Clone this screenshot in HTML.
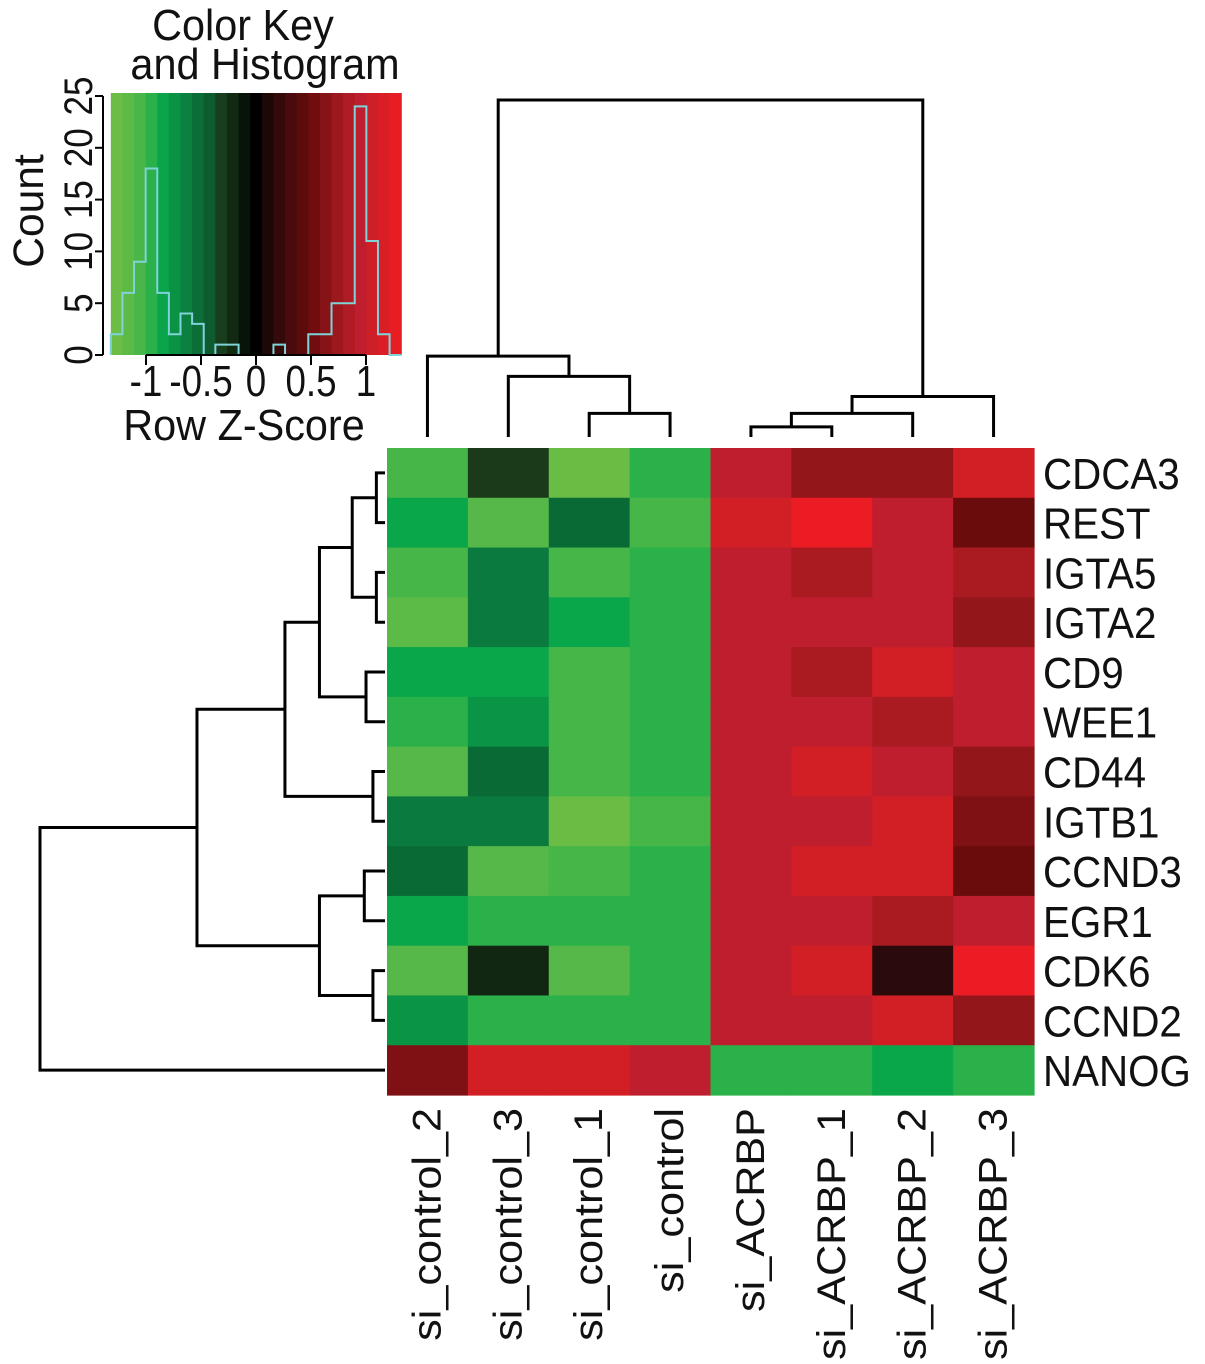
<!DOCTYPE html>
<html><head><meta charset="utf-8"><style>
html,body{margin:0;padding:0;background:#fff;}
svg{display:block;font-family:"Liberation Sans",Arial,sans-serif;}
</style></head><body>
<svg id="c" width="1205" height="1364" viewBox="0 0 1205 1364" xmlns="http://www.w3.org/2000/svg"></svg>
<script>
const genes=["CDCA3","REST","IGTA5","IGTA2","CD9","WEE1","CD44","IGTB1","CCND3","EGR1","CDK6","CCND2","NANOG"];
const samples=["si_control_2","si_control_3","si_control_1","si_control","si_ACRBP","si_ACRBP_1","si_ACRBP_2","si_ACRBP_3"];
const zCDCA3=[-1.05,-0.3,-1.25,-0.95,0.95,0.7,0.7,1.1];
const zREST=[-0.85,-1.1,-0.5,-1.05,1.1,1.3,0.95,0.5];
const zIGTA5=[-1.05,-0.6,-1.05,-0.95,0.95,0.8,0.95,0.8];
const zIGTA2=[-1.15,-0.6,-0.85,-0.95,0.95,0.95,0.95,0.7];
const zCD9=[-0.85,-0.85,-1.05,-0.95,0.95,0.8,1.1,0.95];
const zWEE1=[-0.95,-0.75,-1.05,-0.95,0.95,0.95,0.8,0.95];
const zCD44=[-1.1,-0.5,-1.05,-0.95,0.95,1.1,0.95,0.7];
const zIGTB1=[-0.6,-0.6,-1.25,-1.05,0.95,0.95,1.1,0.6];
const zCCND3=[-0.5,-1.1,-1.05,-0.95,0.95,1.1,1.1,0.5];
const zEGR1=[-0.85,-0.95,-0.95,-0.95,0.95,0.95,0.8,0.95];
const zCDK6=[-1.1,-0.2,-1.1,-0.95,0.95,1.1,0.15,1.3];
const zCCND2=[-0.75,-0.95,-0.95,-0.95,0.95,0.95,1.1,0.7];
const zNANOG=[0.6,1.1,1.1,0.95,-0.95,-0.95,-0.85,-0.95];
const histCounts=[2,6,9,18,6,2,4,3,0,1,1,0,0,0,1,0,0,2,2,5,5,24,11,2,0];
const histStart=-1.32, histBinWidth=0.1056;
const xTicks=[-1,-0.5,0,0.5,1];
const xTickLabels=["-1","-0.5","0","0.5","1"];
const yTicks=[0,5,10,15,20,25];
const colMerges=[[2,3,0.93],[1,8,0.82],[0,9,0.76],[4,5,0.97],[11,6,0.93],[12,7,0.88],[10,13,0.0]];
const rowMerges=[[0,1,0.975],[2,3,0.975],[13,14,0.905],[4,5,0.945],[6,7,0.965],[15,16,0.81],[17,18,0.71],[8,9,0.94],[10,11,0.965],[20,21,0.81],[19,22,0.455],[23,12,0.0]];

const stops=[[-1.32,[114,191,68]],[-1.1,[85,184,72]],[-0.95,[43,177,74]],[-0.85,[10,166,74]],[-0.6,[11,122,62]],[-0.45,[10,98,50]],[-0.3,[26,58,26]],[0,[0,0,0]],[0.15,[42,10,10]],[0.5,[107,12,12]],[0.7,[147,22,27]],[0.8,[169,27,33]],[0.95,[190,30,45]],[1.1,[210,31,38]],[1.32,[237,28,36]]];
function col(v){v=Math.max(-1.32,Math.min(1.32,v));for(let i=0;i<stops.length-1;i++){const a=stops[i],b=stops[i+1];if(v<=b[0]){const t=(v-a[0])/(b[0]-a[0]);const c=a[1].map((x,k)=>Math.round(x+(b[1][k]-x)*t));return `rgb(${c})`;}}return 'rgb(237,28,36)';}
const svg=document.getElementById('c');const NS='http://www.w3.org/2000/svg';
function el(t,a,p){const e=document.createElementNS(NS,t);for(const k in a)e.setAttribute(k,a[k]);(p||svg).appendChild(e);return e;}
const rows=[zCDCA3,zREST,zIGTA5,zIGTA2,zCD9,zWEE1,zCD44,zIGTB1,zCCND3,zEGR1,zCDK6,zCCND2,zNANOG];
const hx0=387,hx1=1034,hy0=448,hy1=1095;
const cw=(hx1-hx0)/samples.length, rh=(hy1-hy0)/genes.length;
const hm=el('g',{});


rows.forEach((r,i)=>r.forEach((v,j)=>{const e=el('rect',{x:hx0+j*cw,y:hy0+i*rh,width:cw+0.6,height:rh+0.6,fill:col(v)},hm);

}));
genes.forEach((g,i)=>{const t=el('text',{x:0,y:0,'font-size':36,fill:'#111',transform:`translate(1043,${hy0+(i+0.5)*rh+16}) scale(1.12,1.22)`});t.textContent=g;

});
samples.forEach((s,j)=>{const cx=hx0+(j+0.5)*cw+13;const t=el('text',{x:0,y:0,'font-size':36,fill:'#111','text-anchor':'end',transform:`translate(${cx},1108) scale(1.1,1.2) rotate(-90)`});t.textContent=s;

});
function dendro(merges,n,leafPos,hPos,vertical,name){const pos=[],hh=[];for(let i=0;i<n;i++){pos.push(leafPos(i));hh.push(1);}
const g=el('g',{stroke:'#000','stroke-width':3,fill:'none'});


merges.forEach(m=>{const a=m[0],b=m[1],h=m[2];const pa=pos[a],pb=pos[b],ha=hPos(hh[a]),hb=hPos(hh[b]),hm2=hPos(h);
let d=vertical?`M${pa},${ha}V${hm2}H${pb}V${hb}`:`M${ha},${pa}H${hm2}V${pb}H${hb}`;el('path',{d},g);pos.push((pa+pb)/2);hh.push(h);});}
dendro(colMerges,8,i=>hx0+(i+0.5)*cw,h=>100+(437-100)*h,true,'column-dendrogram');
dendro(rowMerges,13,i=>hy0+(i+0.5)*rh,h=>40+(385-40)*h,false,'row-dendrogram');
const kx0=111,kx1=401,ky0=93,ky1=355;const kx=v=>256+v*110;const ky=c=>355-c*10.36;
const key=el('g',{});
const ns=25;for(let i=0;i<ns;i++){const v0=-1.32+i*2.64/ns;el('rect',{x:kx(v0),y:ky0,width:2.64/ns*110+0.6,height:ky1-ky0,fill:col(v0+1.32/ns)},key);}
let d=`M${kx(histStart)},${ky(0)}`;histCounts.forEach((c,i)=>{d+=`V${ky(c)}H${kx(histStart+(i+1)*histBinWidth)}`;});d+=`V${ky(0)}`;
const hp=el('path',{d,stroke:'#7fd3d9','stroke-width':2,fill:'none'},key);

el('line',{x1:kx(-1),x2:kx(1),y1:355,y2:355,stroke:'#000','stroke-width':2},key);
xTicks.forEach((v,i)=>{el('line',{x1:kx(v),x2:kx(v),y1:355,y2:365,stroke:'#000','stroke-width':2},key);const t=el('text',{x:0,y:0,'font-size':36,'text-anchor':'middle',fill:'#111',transform:`translate(${kx(v)},396) scale(1.02,1.2)`},key);t.textContent=xTickLabels[i];
});
el('line',{x1:103,x2:103,y1:ky(0),y2:ky(25),stroke:'#000','stroke-width':2},key);
yTicks.forEach(v=>{el('line',{x1:95,x2:103,y1:ky(v),y2:ky(v),stroke:'#000','stroke-width':2},key);const t=el('text',{x:0,y:0,'font-size':35,'text-anchor':'middle',fill:'#111',transform:`translate(92,${ky(v)}) scale(1.15,1.0) rotate(-90)`},key);t.textContent=v;
});
const tt=[["Color Key",243,40],["and Histogram",265,79]];
tt.forEach(a=>{const t=el('text',{x:0,y:0,'font-size':36,'text-anchor':'middle',fill:'#111',transform:`translate(${a[1]},${a[2]}) scale(1.15,1.2)`});t.textContent=a[0];
});
const xt=el('text',{x:0,y:0,'font-size':36,'text-anchor':'middle',fill:'#111',transform:'translate(244,440) scale(1.15,1.22)'});xt.textContent='Row Z-Score';

const yt=el('text',{x:0,y:0,'font-size':37,'text-anchor':'middle',fill:'#111',transform:'translate(43,211) scale(1.15,1.15) rotate(-90)'});yt.textContent='Count';

</script>
</body></html>
